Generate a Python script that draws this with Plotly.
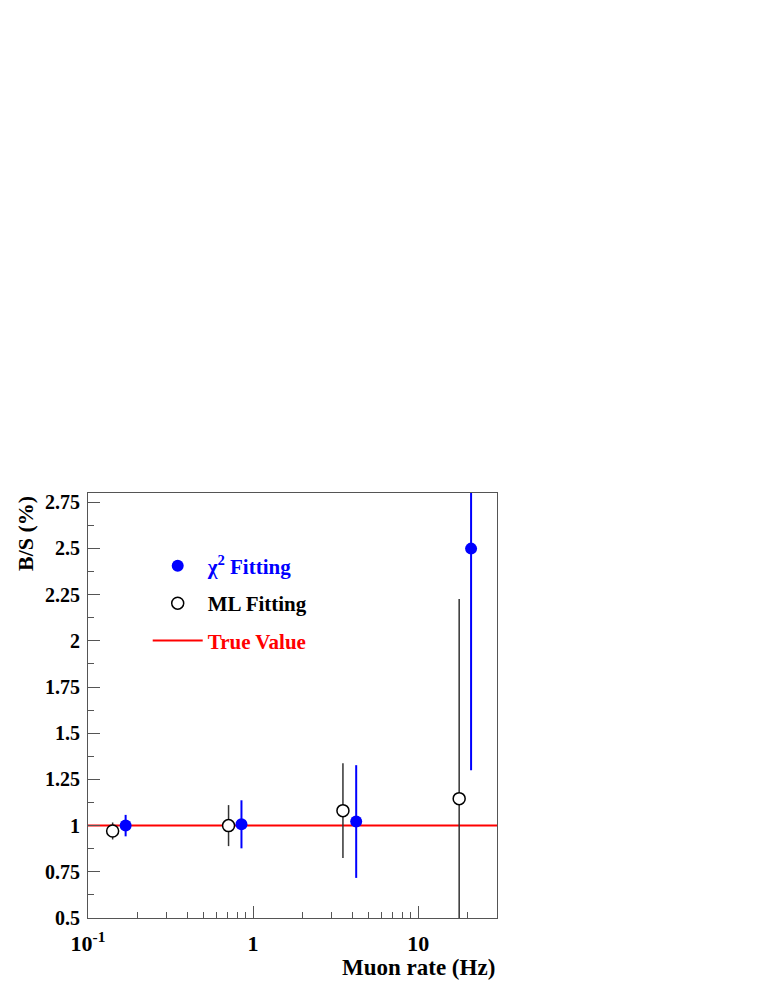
import plotly.graph_objects as go

# chi2 fitting results
chi2_rate = [0.169, 0.85, 4.21, 20.9]
chi2_bs = [1.0, 1.007, 1.022, 2.499]
chi2_err = [0.058, 0.13, 0.305, 1.2]

# maximum likelihood fitting results
ml_rate = [0.141, 0.71, 3.5, 17.7]
ml_bs = [0.971, 1.0, 1.081, 1.146]
ml_err = [0.046, 0.111, 0.256, 1.08]

true_value = 1.0
x_range = [0.1, 30]
y_range = [0.5, 2.8]

y_ticks = [0.5, 0.75, 1, 1.25, 1.5, 1.75, 2, 2.25, 2.5, 2.75]
y_ticktext = ["0.5", "0.75", "1", "1.25", "1.5", "1.75", "2", "2.25", "2.5", "2.75"]
x_ticks = [0.1, 1, 10]
x_ticktext = ["10<sup>-1</sup>", "1", "10"]
x_minor = [0.2, 0.3, 0.4, 0.5, 0.6, 0.7, 0.8, 0.9, 2, 3, 4, 5, 6, 7, 8, 9, 20]
y_minor = [0.625, 0.875, 1.125, 1.375, 1.625, 1.875, 2.125, 2.375, 2.625]

FONT = "Liberation Serif, Times New Roman, serif"

fig = go.Figure()

fig.add_trace(go.Scatter(
    x=x_range, y=[true_value, true_value], mode="lines",
    line=dict(color="#ff0000", width=2),
    name="<span style='color:#ff0000'>True Value</span>", legendrank=3, legendgroup="true",
))
fig.add_trace(go.Scatter(
    x=ml_rate, y=ml_bs, mode="markers",
    marker=dict(symbol="circle", size=12, color="white", line=dict(color="black", width=1.5)),
    error_y=dict(type="data", array=ml_err, color="#333333", thickness=1.5, width=0),
    name="ML Fitting", legendrank=2, legendgroup="ml",
))
fig.add_trace(go.Scatter(
    x=chi2_rate, y=chi2_bs, mode="markers",
    marker=dict(symbol="circle", size=12, color="#0000ff"),
    error_y=dict(type="data", array=chi2_err, color="#0000ff", thickness=2, width=0),
    name="<span style='color:#0000ff'>χ<sup>2</sup> Fitting</span>", legendrank=1, legendgroup="chi2",
))

# the page body has an 8px margin, so the plot area is placed accordingly
fig.update_layout(
    width=765, height=990,
    margin=dict(l=80, r=276, t=485, b=80),
    paper_bgcolor="white", plot_bgcolor="white",
    font=dict(family=FONT, size=20, color="black", weight="bold"),
    showlegend=True,
    legend=dict(
        x=0.146, y=0.876, xanchor="left", yanchor="top",
        bgcolor="rgba(0,0,0,0)", font=dict(size=21, family=FONT, weight="bold"),
        tracegroupgap=7, traceorder="grouped", itemwidth=50,
    ),
)

fig.update_xaxes(
    type="log", range=[-1, 1.4771],
    showline=True, linecolor="#555555", linewidth=1, mirror=True,
    showgrid=False, zeroline=False,
    ticks="inside", ticklen=12, tickcolor="#555555",
    tickvals=x_ticks, ticktext=x_ticktext,
    tickfont=dict(size=22, family=FONT, weight="bold"),
    ticklabelstandoff=6,
    minor=dict(ticks="inside", ticklen=6, tickcolor="#555555", tickvals=x_minor, showgrid=False),
)
fig.update_yaxes(
    range=y_range,
    showline=True, linecolor="#555555", linewidth=1, mirror=True,
    showgrid=False, zeroline=False,
    ticks="inside", ticklen=12, tickcolor="#555555",
    tickvals=y_ticks, ticktext=y_ticktext,
    tickfont=dict(size=20, family=FONT, weight="bold"),
    ticklabelstandoff=3,
    minor=dict(ticks="inside", ticklen=6, tickcolor="#555555", tickvals=y_minor, showgrid=False),
)

fig.add_annotation(
    text="B/S (%)", textangle=-90, xref="paper", yref="paper",
    x=-0.154, y=0.9035, xanchor="center", yanchor="middle", showarrow=False,
    font=dict(size=22, family=FONT, weight="bold"),
)
fig.add_annotation(
    text="Muon rate (Hz)", xref="paper", yref="paper",
    x=1.0, y=-0.1176, xanchor="right", yanchor="middle", showarrow=False,
    font=dict(size=23, family=FONT, weight="bold"),
)

fig.write_html("out.html")
